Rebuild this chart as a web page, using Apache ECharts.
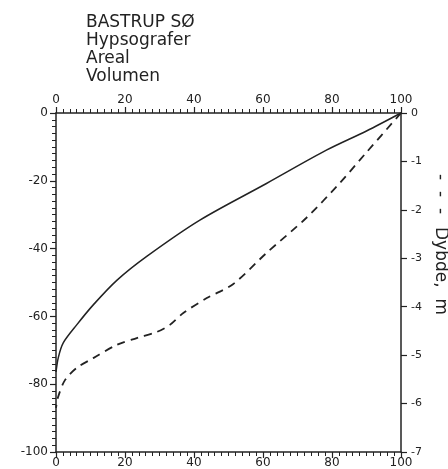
<!DOCTYPE html>
<html>
<head>
<meta charset="utf-8">
<script src="https://cdn.jsdelivr.net/npm/echarts@6/dist/echarts.min.js"></script>
<style>
  html, body { margin: 0; padding: 0; background: #fff; }
  #chart { width: 448px; height: 469px; }
</style>
</head>
<body>
<div id="chart"></div>
<script>
// areal (solid) - % of area vs % of depth
const arealPct = [100, 90, 78.5, 61, 41.7, 26.3, 17.7, 10.8, 6, 2.1, 0.7, 0];
const arealDepth = [0, -5.3, -10.9, -20.8, -31.6, -42.3, -49.3, -56.6, -62.5, -67.8, -72, -76.4];

// volumen (dashed)
const volPct = [100, 90, 82.3, 72.6, 61, 51.3, 43.7, 36.9, 33, 29.2, 23.4, 17.6, 10.8, 6, 2.6, 0.6, 0];
const volDepth = [0, -11.6, -20.6, -30.9, -41.3, -50.5, -54.6, -59, -62.5, -64.6, -66.4, -68.4, -72.3, -75.2, -78.8, -83.8, -87];

const pctTicks = [0, 100, 20];      // min, max, interval
const depthPctTicks = [-100, 0, 20];
const depthMTicks = [-7, 0, 1];

const INK = '#222';
const FONT = 'DejaVu Sans';

function pairs(xs, ys) {
    return xs.map(function (x, i) { return [x, ys[i]] })
}

function axisBase(ticks, minor) {
    return {
        type: 'value',
        min: ticks[0],
        max: ticks[1],
        interval: ticks[2],
        splitLine: { show: false },
        axisLine: { show: true, onZero: false, lineStyle: { color: INK, width: 1.5 } },
        axisTick: { show: true, length: 6, lineStyle: { color: INK, width: 1.2 } },
        minorTick: { show: minor, splitNumber: 10, length: 4, lineStyle: { color: INK, width: 1 } },
        axisLabel: { color: INK, fontFamily: FONT, fontSize: 12 }
    }
}

const chart = echarts.init(document.getElementById('chart'));

const xBottom = axisBase(pctTicks, true);
xBottom.position = 'bottom';
xBottom.axisLabel.margin = 5;

const xTop = axisBase(pctTicks, true);
xTop.position = 'top';
xTop.axisLabel.margin = 7;

const yLeft = axisBase(depthPctTicks, true);
yLeft.position = 'left';
yLeft.axisLabel.margin = 8;

const yRight = axisBase(depthMTicks, false);
yRight.position = 'right';
yRight.axisLabel.margin = 10;
yRight.axisLabel.fontSize = 11;

chart.setOption({
    animation: false,
    backgroundColor: '#fff',
    title: {
        text: 'BASTRUP SØ\nHypsografer\nAreal\nVolumen',
        left: 86,
        top: 14,
        padding: 0,
        textStyle: {
            color: INK,
            fontFamily: FONT,
            fontWeight: 'normal',
            fontSize: 17,
            lineHeight: 18
        }
    },
    grid: {
        left: 56,
        right: 47,
        top: 113,
        bottom: 17,
        containLabel: false
    },
    xAxis: [xBottom, xTop],
    yAxis: [yLeft, yRight],
    graphic: [
        {
            type: 'text',
            x: 440,
            y: 174,
            rotation: -Math.PI / 2,
            style: {
                text: '-  -  -',
                fill: INK,
                font: '17px "DejaVu Sans"',
                align: 'left',
                verticalAlign: 'middle'
            }
        },
        {
            type: 'text',
            x: 440,
            y: 227,
            rotation: -Math.PI / 2,
            style: {
                text: 'Dybde,  m',
                fill: INK,
                font: '17px "DejaVu Sans"',
                align: 'left',
                verticalAlign: 'middle'
            }
        }
    ],
    series: [
        {
            name: 'Areal',
            type: 'line',
            xAxisIndex: 0,
            yAxisIndex: 0,
            showSymbol: false,
            smooth: 0.3,
            lineStyle: { color: INK, width: 1.5 },
            data: pairs(arealPct, arealDepth)
        },
        {
            name: 'Volumen',
            type: 'line',
            xAxisIndex: 0,
            yAxisIndex: 0,
            showSymbol: false,
            smooth: 0.3,
            lineStyle: { color: INK, width: 1.8, type: [8, 6] },
            data: pairs(volPct, volDepth)
        }
    ]
})
</script>
</body>
</html>
